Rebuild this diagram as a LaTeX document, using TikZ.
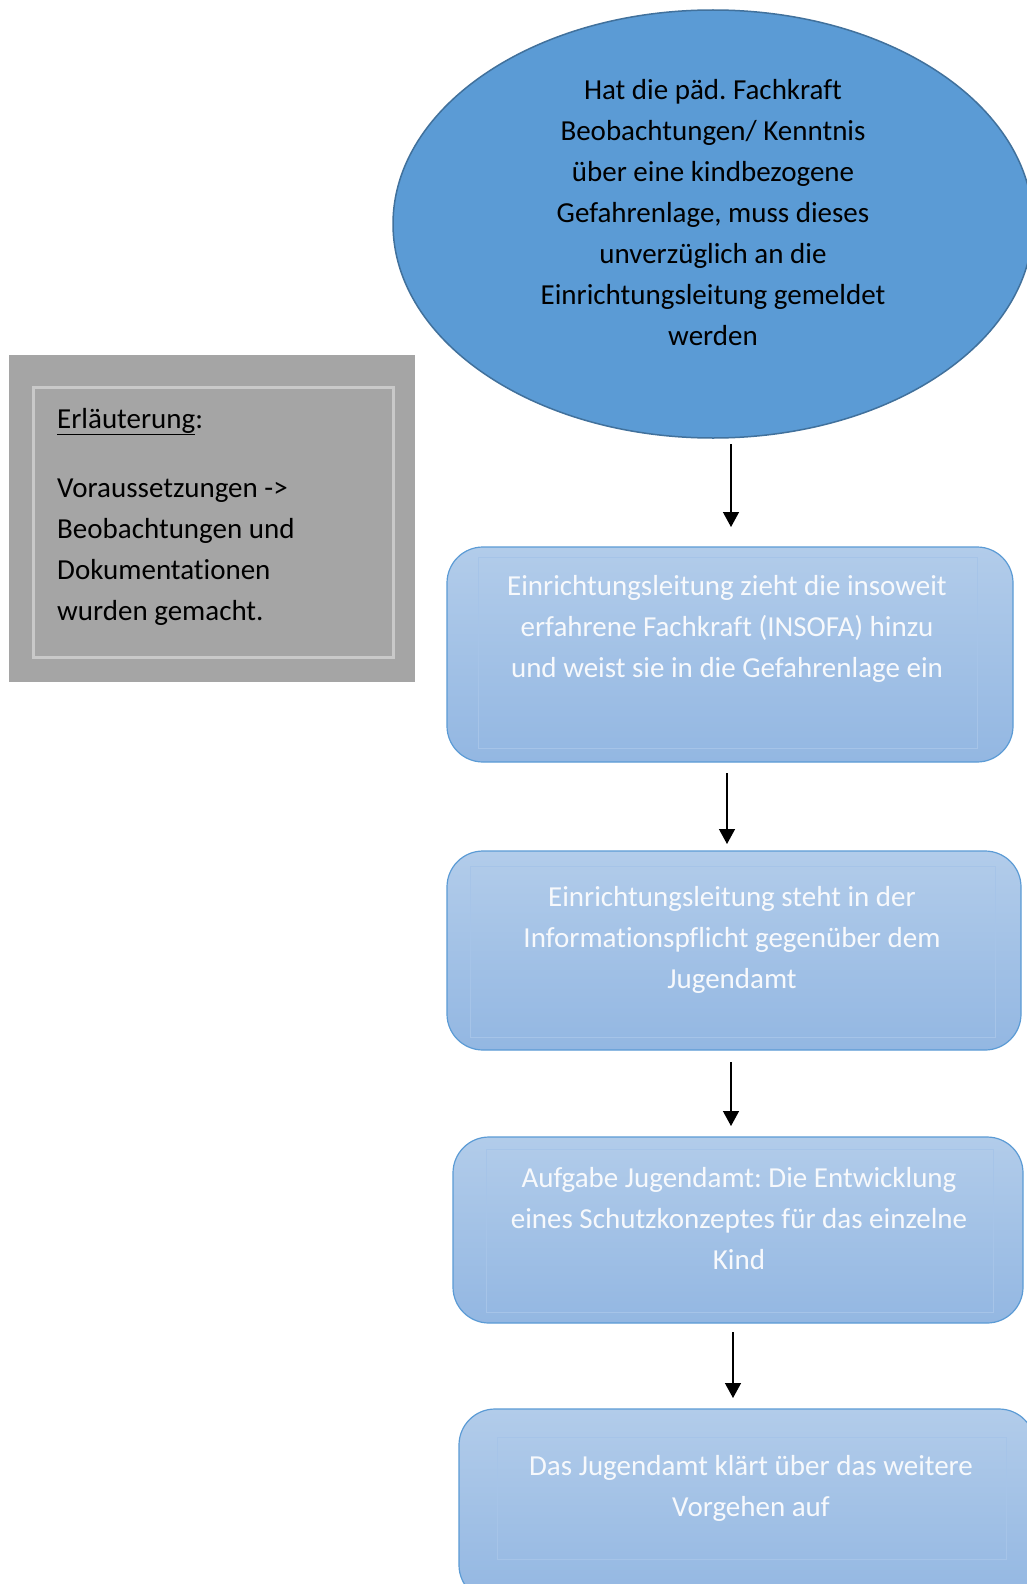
\documentclass[tikz,border=0pt]{standalone}
\usepackage{fontspec}
\setmainfont[Ligatures={NoCommon}]{Carlito}
\usetikzlibrary{arrows.meta,shapes.geometric}
\definecolor{ellfill}{HTML}{5B9BD5}
\definecolor{ellline}{HTML}{41719C}
\definecolor{graybg}{HTML}{A5A5A5}
\definecolor{grayin}{HTML}{C9C9C9}
\definecolor{boxtop}{HTML}{B2CCEA}
\definecolor{boxbot}{HTML}{93B7E2}
\definecolor{boxline}{HTML}{5B9BD5}
\definecolor{innerline}{HTML}{A6C4E8}
\definecolor{boxtext}{HTML}{F7F9FC}
\tikzset{
  bigfont/.style={font=\fontsize{29}{41}\selectfont\frenchspacing},
  bluebox/.style={draw=boxline, line width=1.2pt, rounded corners=36pt, top color=boxtop, bottom color=boxbot, inner sep=0pt},
  innerbox/.style={draw=innerline, line width=0.8pt, inner sep=0pt},
  boxlabel/.style={bigfont, text=boxtext, align=center, inner sep=0pt},
  arr/.style={line width=1.4pt, -{Triangle[width=16pt,length=15pt]}}
}
\newcommand{\ulword}[1]{\underline{#1}}
\begin{document}
\begin{tikzpicture}[x=1pt,y=-1pt]
\useasboundingbox (0,0) rectangle (1027,1584);
\clip (0,0) rectangle (1027,1584);
\fill[white] (0,0) rectangle (1027,1584);

% ellipse
\node[ellipse, draw=ellline, fill=ellfill, line width=1.5pt, minimum width=640pt, minimum height=428pt, inner sep=0pt] (ell) at (713,224) {};
\node[bigfont, align=center, inner sep=0pt] (elltext) at (713,213) {Hat die päd. Fachkraft\\Beobachtungen/ Kenntnis\\über eine kindbezogene\\Gefahrenlage, muss dieses\\unverzüglich an die\\Einrichtungsleitung gemeldet\\werden};

% gray box
\node[fill=graybg, minimum width=406pt, minimum height=327pt, inner sep=0pt] (gray) at (212,518.5) {};
\node[draw=grayin, line width=3pt, minimum width=360pt, minimum height=270pt, inner sep=0pt] (grayinner) at (213,522) {};
\node[bigfont, anchor=base west, align=left, inner sep=0pt] (graytext) at (57,620) {\ulword{Erläuterung}:\\[28pt]Voraussetzungen ->\\Beobachtungen und\\Dokumentationen\\wurden gemacht.};

% box 1
\node[bluebox, minimum width=566pt, minimum height=215pt] (b1) at (730,654.5) {};
\node[innerbox, minimum width=499pt, minimum height=191pt] (b1i) at (727.5,652.5) {};
\node[boxlabel] (b1t) at (727,629) {Einrichtungsleitung zieht die insoweit\\erfahrene Fachkraft (INSOFA) hinzu\\und weist sie in die Gefahrenlage ein};

% box 2
\node[bluebox, minimum width=574pt, minimum height=199pt] (b2) at (734,950.5) {};
\node[innerbox, minimum width=525pt, minimum height=171pt] (b2i) at (732.5,951.5) {};
\node[boxlabel] (b2t) at (732,940) {Einrichtungsleitung steht in der\\Informationspflicht gegenüber dem\\Jugendamt};

% box 3
\node[bluebox, minimum width=570pt, minimum height=186pt] (b3) at (738,1230) {};
\node[innerbox, minimum width=507pt, minimum height=163pt] (b3i) at (739.5,1230.5) {};
\node[boxlabel] (b3t) at (739,1219) {Aufgabe Jugendamt: Die Entwicklung\\eines Schutzkonzeptes für das einzelne\\Kind};

% box 4
\node[bluebox, minimum width=576pt, minimum height=192pt] (b4) at (747,1505) {};
\node[innerbox, minimum width=509pt, minimum height=122pt] (b4i) at (751.5,1498) {};
\node[boxlabel] (b4t) at (751,1488) {Das Jugendamt klärt über das weitere\\Vorgehen auf};

% arrows
\coordinate (a1s) at (731,444);
\coordinate (a1e) at (731,527);
\coordinate (a2s) at (727,773);
\coordinate (a2e) at (727,844);
\coordinate (a3s) at (731,1062);
\coordinate (a3e) at (731,1126);
\coordinate (a4s) at (733,1332);
\coordinate (a4e) at (733,1398);
\draw[arr] (a1s) -- (a1e);
\draw[arr] (a2s) -- (a2e);
\draw[arr] (a3s) -- (a3e);
\draw[arr] (a4s) -- (a4e);
\end{tikzpicture}
\end{document}
